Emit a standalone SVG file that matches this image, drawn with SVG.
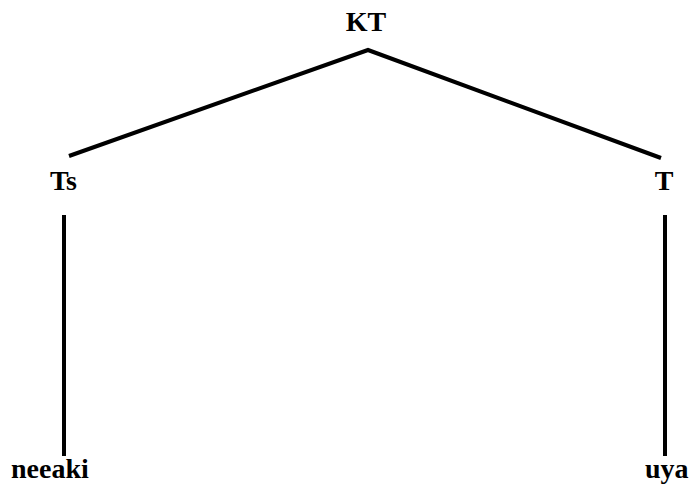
<svg xmlns="http://www.w3.org/2000/svg" width="691" height="487" viewBox="0 0 691 487">
<style>
text{font-family:"Liberation Serif","Times New Roman",serif;font-weight:bold;font-size:28px;fill:#000}
.e{stroke:#000;stroke-width:4;fill:none}
</style>
<rect width="691" height="487" fill="#fff"/>
<g id="connectors">
<polyline class="e" points="69,156 368,50 661,158"/>
<line class="e" x1="64" y1="215" x2="64" y2="456"/>
<line class="e" x1="665" y1="215" x2="665" y2="456"/>
</g>
<g id="KT"><text x="366" y="31" text-anchor="middle">KT</text></g>
<g id="Ts"><text x="50" y="190">Ts</text></g>
<g id="T"><text x="664" y="190" text-anchor="middle">T</text></g>
<g id="neeaki"><text x="11" y="478">neeaki</text></g>
<g id="uya"><text x="645" y="478">uya</text></g>
</svg>
